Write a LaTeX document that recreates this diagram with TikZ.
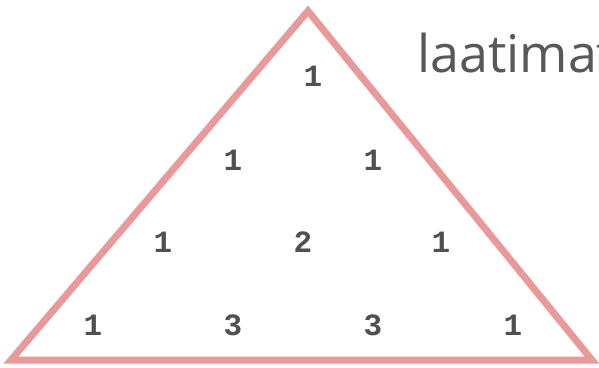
\documentclass[tikz,border=0pt]{standalone}
\usepackage{fontspec}
\newfontfamily\numfont{Liberation Mono}
\newfontfamily\labelfont{Open Sans}
\usepackage{xcolor}
\definecolor{edgered}{HTML}{E89A9B}
\definecolor{numgray}{HTML}{505050}
\definecolor{textgray}{HTML}{585858}

\begin{document}
\begin{tikzpicture}[x=1pt, y=-1pt,
        num/.style={font=\numfont\bfseries\fontsize{31}{31}\selectfont, text=numgray, inner sep=0pt},
        edge/.style={draw=edgered, line width=7pt, line join=miter}
    ]
        \useasboundingbox (0,0) rectangle (599,367);

        \coordinate (top)   at (308,11);
        \coordinate (left)  at (11,360);
        \coordinate (right) at (592,360);
        \draw[edge] (top) -- (left) -- (right) -- cycle;

        % rows of the triangle
        \node[num] (r1a) at (313,76)  {1};
        \node[num] (r2a) at (233,160) {1};
        \node[num] (r2b) at (373,160) {1};
        \node[num] (r3a) at (163,242) {1};
        \node[num] (r3b) at (303,242) {2};
        \node[num] (r3c) at (441,242) {1};
        \node[num] (r4a) at (93,325)  {1};
        \node[num] (r4b) at (233,325) {3};
        \node[num] (r4c) at (373,325) {3};
        \node[num] (r4d) at (513,325) {1};

        \node[anchor=base west, inner sep=0pt, text=textgray,
              font=\labelfont\fontsize{52}{52}\selectfont] (title) at (417,72) {laatimat};
    \end{tikzpicture}
\end{document}
